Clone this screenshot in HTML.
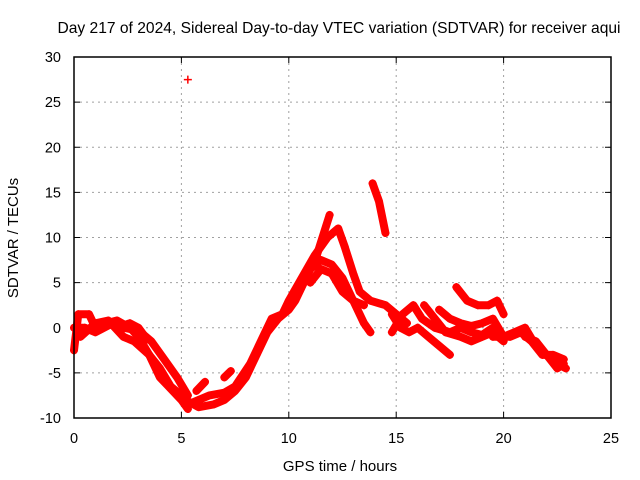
<!DOCTYPE html>
<html><head><meta charset="utf-8"><style>
body{margin:0;background:#fff}
svg{display:block;font-family:"Liberation Sans",sans-serif}
</style></head><body>
<svg id="chart" width="640" height="480">
<text x="339" y="33" font-size="15.6" text-anchor="middle">Day 217 of 2024, Sidereal Day-to-day VTEC variation (SDTVAR) for receiver aqui</text>
<text x="340" y="471" font-size="15" text-anchor="middle">GPS time / hours</text>
<text transform="translate(18,238) rotate(-90)" font-size="15" text-anchor="middle">SDTVAR / TECUs</text>
<g id="grid"></g><g id="ticks"></g><g id="marks"></g>
<rect x="74" y="57" width="537" height="361" fill="none" stroke="#000" stroke-width="1.5"/>
</svg>
<script>
const xTicks=[0,5,10,15,20,25];
const yTicks=[-10,-5,0,5,10,15,20,25,30];
const seriesA=[[0,-2.5],[0.2,1.5],[0.7,1.5],[1,0],[1.5,0.5],[2,0.8],[2.6,0],[3,-1],[3.5,-3],[4,-5.5],[4.4,-6.5],[5,-8],[5.3,-9]];
const seriesB=[[0,0],[0.5,0],[1,-0.5],[1.8,0.5],[2.3,0],[3,-0.3],[3.6,-1.5],[4.2,-3.5],[4.8,-5.5],[5.3,-7.5]];
const seriesC=[[0.3,-1],[1,0.5],[1.6,0.8],[2.3,-1],[2.8,-1.5],[3.5,-3],[4,-4.5],[4.5,-6.5],[5,-7.5]];
const seriesD=[[2,0],[2.6,0.5],[3,0],[3.4,-1.3]];
const seriesE=[[5.2,-8],[5.8,-8.8],[6.5,-8.5],[7,-8],[7.5,-7],[8,-5.5],[8.5,-3],[9,-0.5],[9.5,1],[10,2],[10.3,3],[10.8,5.5],[11.3,8],[11.9,12.5]];
const seriesF=[[5.5,-8.3],[6.3,-7.5],[7,-7.2],[7.5,-6.5],[8.2,-4],[8.8,-1],[9.2,1],[9.7,1.5],[10,3],[10.6,5.5],[11.2,8],[11.8,10],[12.3,11],[12.6,9],[13,6],[13.3,4],[13.8,3],[14.5,2.5],[15,1.5],[15.5,0.5]];
const seriesG=[[5.7,-7],[6.1,-6]];
const seriesH=[[7,-5.5],[7.3,-4.8]];
const seriesI=[[10.5,4.5],[11,6.5],[11.5,7.5],[12,7],[12.5,5.5],[13,3],[13.5,0.5],[13.8,-0.5]];
const seriesJ=[[11,5],[11.5,6.5],[12,6],[12.5,4],[13,3],[13.5,2.5]];
const seriesK=[[13.9,16],[14.2,14],[14.5,10.5]];
const seriesL=[[14.8,-0.5],[15.3,1.5],[15.8,2.5],[16.2,1],[16.8,0],[17.5,-0.5],[18,0],[18.5,-0.5],[19,-0.8],[19.5,0],[20,-1],[20.5,-0.5],[21,0],[21.5,-2],[22,-3],[22.5,-4.5],[22.8,-4]];
const seriesM=[[14.8,1.5],[15.2,0],[15.6,-0.5],[16,0],[16.5,-1],[17,-2],[17.5,-3]];
const seriesN=[[16.3,2.5],[16.8,1],[17.3,-0.5],[18,-1],[18.5,-1.5],[19,-1],[19.5,-0.5],[20,-1.5]];
const seriesO=[[17,2],[17.5,1],[18,0.5],[18.5,0.2],[19,0.5],[19.5,1],[20,-1]];
const seriesP=[[17.8,4.5],[18.3,3],[18.8,2.5],[19.3,2.5],[19.7,3],[20,1.5]];
const seriesQ=[[19.5,-1],[20.3,-1],[20.8,-0.5],[21.3,-1.5],[21.8,-3],[22.3,-3],[22.8,-3.5]];
const seriesR=[[21,-1],[21.5,-1.5],[22,-3],[22.5,-4],[22.9,-4.5]];
const seriesS=[[5.3,27.5]];
const allSeries=[seriesA,seriesB,seriesC,seriesD,seriesE,seriesF,seriesG,seriesH,seriesI,seriesJ,seriesK,seriesL,seriesM,seriesN,seriesO,seriesP,seriesQ,seriesR,seriesS];

const X0=74,X1=611,Y0=418,Y1=57;
const sx=t=>X0+(t-0)/25*(X1-X0);
const sy=v=>Y0-(v+10)/40*(Y0-Y1);
const NS="http://www.w3.org/2000/svg";
function mk(tag,attrs,parent){const e=document.createElementNS(NS,tag);for(const k in attrs)e.setAttribute(k,attrs[k]);parent.appendChild(e);return e;}
const grid=document.getElementById('grid'),ticks=document.getElementById('ticks'),marks=document.getElementById('marks');
xTicks.forEach(t=>{const x=sx(t);
 if(t>0&&t<25){const g=mk('line',{x1:x,x2:x,y1:Y1,y2:Y0,stroke:'#a0a0a0','stroke-dasharray':'2,4'},grid);
 
 }
 mk('line',{x1:x,x2:x,y1:Y0,y2:Y0-6,stroke:'#000'},ticks);mk('line',{x1:x,x2:x,y1:Y1,y2:Y1+6,stroke:'#000'},ticks);
 const l=mk('text',{x:x,y:443,'font-size':14.5,'text-anchor':'middle'},ticks);l.textContent=t;
 
 });
yTicks.forEach(v=>{const y=sy(v);
 if(v>-10&&v<30){const g=mk('line',{x1:X0,x2:X1,y1:y,y2:y,stroke:'#a0a0a0','stroke-dasharray':'2,4'},grid);
 
 }
 mk('line',{x1:X0,x2:X0+6,y1:y,y2:y,stroke:'#000'},ticks);mk('line',{x1:X1,x2:X1-6,y1:y,y2:y,stroke:'#000'},ticks);
 const l=mk('text',{x:61,y:y+5,'font-size':14.5,'text-anchor':'end'},ticks);l.textContent=v;
 
 });
allSeries.forEach((s,i)=>{
 if(s.length>1){const p=mk('polyline',{points:s.map(d=>sx(d[0])+','+sy(d[1])).join(' '),fill:'none',stroke:'#f00','stroke-width':8,'stroke-linejoin':'round','stroke-linecap':'round'},marks);
 
 }
 s.forEach(d=>{const x=sx(d[0]),y=sy(d[1]);
  const m=mk('path',{d:`M${x-4},${y}H${x+4}M${x},${y-4}V${y+4}`,stroke:'#f00','stroke-width':1.5},marks);
  
  });
});
</script>
</body></html>
